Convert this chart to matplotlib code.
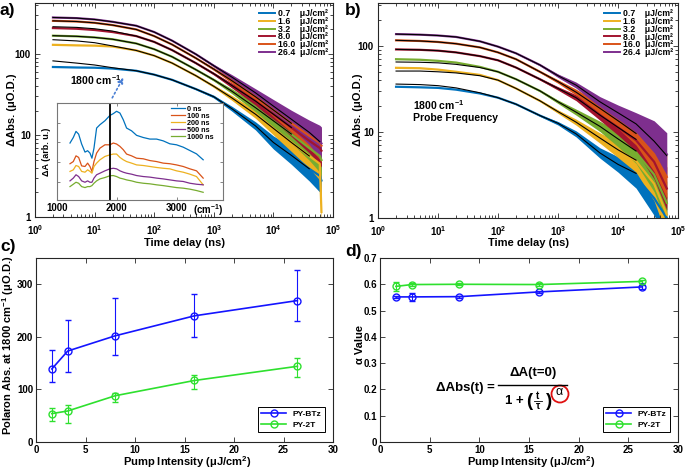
import numpy as np
import matplotlib
matplotlib.use('Agg')
import matplotlib.pyplot as plt
from matplotlib.ticker import FixedLocator, NullFormatter, LogLocator, FuncFormatter
from matplotlib.patches import Ellipse
from matplotlib.lines import Line2D

plt.rcParams.update({
    'font.family': ['Liberation Sans', 'DejaVu Sans'],
    'font.weight': 'bold',
    'axes.labelweight': 'bold',
    'mathtext.fontset': 'custom',
    'mathtext.rm': 'Liberation Sans:weight=normal',
    'mathtext.it': 'Liberation Sans:italic:weight=normal',
    'mathtext.bf': 'Liberation Sans:weight=bold',
    'mathtext.default': 'bf',
    'axes.linewidth': 0.8,
    'axes.edgecolor': '#262626',
})

# ---------------- data ----------------
fluence_labels = ['0.7    μJ/cm²', '1.6    μJ/cm²', '3.2    μJ/cm²',
                  '8.0    μJ/cm²', '16.0  μJ/cm²', '26.4  μJ/cm²']
series_colors = ['#0072BD', '#EDB120', '#77AC30', '#A2142F', '#D95319', '#7E2F8E']

# panel a : PY-BTz decay traces (uO.D.)
t_a = [2, 5, 10, 20, 50, 100, 200, 500, 1e3, 2e3, 5e3, 1e4, 2e4, 4e4, 6e4, 6.4e4]
a_07 = [69, 68, 67.6, 66, 62, 55.6, 48, 37, 29.8, 21.3, 13.1, 8.2, 5.7, 3.9, 3.2, 2.8]
a_16 = [129, 127, 126, 123, 110, 95, 77, 54, 40, 28.9, 18.2, 12.2, 8.2, 5.6, 4.5, 1.15]
a_32 = [167, 164, 159, 151, 134, 114, 92, 64, 48, 34.9, 21.9, 15.1, 10.4, 7.0, 5.6, 5.0]
a_80 = [207, 203, 196, 185, 165, 140, 111, 77, 57, 41, 26.4, 18.2, 12.5, 8.6, 7.0, 6.5]
a_160 = [254, 249, 240, 225, 199, 165, 130, 88.6, 65, 47, 29.8, 20.5, 14.1, 9.9, 8.1, 7.5]
a_264 = [279, 274, 264, 247, 221, 185, 145, 99, 71.5, 52, 33.3, 22.9, 15.8, 10.9, 8.4, 8.0]
noise_a = [0, 0, 0, 0, 0, 0, 0.003, 0.008, 0.015, 0.03, 0.05, 0.08, 0.11, 0.15, 0.2, 0.2]
# fitted curves, panel a
fit_a_07 = [82, 77, 73, 67.6, 62, 55.6, 48, 37, 29.8, 21.3, 13.1, 8.2, 5.7, 3.9]
fit_a_16 = [149, 144, 137, 125, 110, 95, 77, 54, 40, 28.9, 18.2, 12.2, 8.2, 5.6]
fit_a_32 = [167, 164, 159, 151, 134, 114, 92, 64, 48, 34.9, 21.9, 15.1, 10.4]
fit_a_80 = [215, 211, 203, 190, 165, 140, 111, 77, 57, 41, 26.4, 18.2, 12.5]
fit_a_160 = [254, 249, 240, 225, 199, 165, 130, 88.6, 65, 47, 29.8, 20.5, 14.1]
fit_a_264 = [279, 274, 264, 247, 221, 185, 145, 99, 71.5, 52, 33.3, 22.9, 15.8, 10.9, 8.4]

# panel b : PY-2T decay traces (uO.D.)
t_b = [2, 5, 10, 20, 50, 100, 200, 500, 1e3, 2e3, 5e3, 1e4, 2e4, 4e4, 6.5e4]
b_07 = [33.5, 33, 32.5, 31, 28, 25, 21, 15.5, 12.6, 9.5, 5.7, 4.2, 3.0, 1.7, 1.0]
b_16 = [55.6, 55, 53, 50, 46, 40, 32, 23, 17.2, 13, 8.5, 6.2, 4.6, 2.5, 1.1]
b_32 = [70, 69, 67, 64, 57, 50, 41, 30, 22.4, 17, 11.6, 8.3, 5.8, 3.2, 1.5]
b_80 = [91, 90, 88, 84, 76, 68, 56, 41, 32, 25, 15.7, 11.3, 8, 4.5, 2.2]
b_160 = [116, 114, 111, 106, 96, 84, 70, 50, 38.5, 29, 18.8, 13.5, 9.5, 5.5, 3.0]
b_264 = [137, 135, 132, 127, 113, 98, 82, 60, 45, 35, 22.4, 16.7, 12.4, 8.5, 5.5]
noise_b = [0, 0, 0, 0, 0, 0.003, 0.005, 0.01, 0.02, 0.035, 0.06, 0.09, 0.13, 0.2, 0.25]
fit_b_07 = [36, 35.5, 34.5, 32.5, 28.5, 25, 21, 15.5, 12.6, 9.5, 5.7, 4.2, 3.3]
fit_b_16 = [51, 51, 50, 48.5, 45, 40, 32, 23, 17.2, 13, 8.5, 6.2, 4.7]
fit_b_32 = [65, 64.5, 63.5, 61, 56, 50, 41, 30, 22.4, 17, 11.6, 8.3, 6.0]
fit_b_80 = [91, 90, 88, 84, 76, 68, 56, 41, 32, 25, 15.7, 11.3, 8.2]
fit_b_160 = [116, 114, 111, 106, 96, 84, 70, 50, 38.5, 29, 18.8, 13.5, 9.6]
fit_b_264 = [137, 135, 132, 127, 113, 98, 82, 60, 45, 35, 22.4, 16.7, 12.4, 7.8, 5.3]

# inset : transient spectra (arb. u.)
inset_wn = [1217, 1272, 1317, 1361, 1411, 1467, 1511, 1550, 1583, 1617, 1661, 1717,
            1800, 1883, 1939, 1994, 2050, 2106, 2161, 2244, 2328, 2439, 2550, 2661,
            2772, 2883, 2994, 3106, 3217, 3328, 3439]
spec_0ns = [2.97, 3.25, 3.56, 3.42, 2.92, 2.51, 2.58, 2.46, 2.20, 2.71, 3.73, 3.90,
            4.10, 4.37, 4.46, 4.58, 4.49, 4.15, 3.73, 3.59, 3.36, 3.25, 3.17, 3.17,
            3.08, 2.93, 2.88, 2.76, 2.59, 2.42, 2.12]
spec_100ns = [1.92, 2.03, 2.32, 2.24, 1.81, 1.78, 1.95, 1.78, 1.53, 2.03, 2.46, 2.71,
              2.88, 2.88, 2.97, 2.92, 2.80, 2.63, 2.41, 2.32, 2.20, 2.17, 2.08, 2.03,
              1.95, 1.92, 1.86, 1.78, 1.66, 1.56, 1.19]
spec_200ns = [1.53, 1.61, 1.83, 1.78, 1.53, 1.49, 1.61, 1.53, 1.44, 1.78, 1.95, 2.12,
              2.29, 2.37, 2.41, 2.41, 2.24, 2.12, 2.03, 1.95, 1.86, 1.83, 1.78, 1.73,
              1.69, 1.66, 1.56, 1.49, 1.39, 1.27, 0.85]
spec_500ns = [1.05, 1.19, 1.36, 1.27, 1.05, 0.98, 1.05, 0.98, 0.98, 1.19, 1.36, 1.44,
              1.56, 1.66, 1.69, 1.66, 1.56, 1.49, 1.44, 1.39, 1.32, 1.27, 1.24, 1.19,
              1.15, 1.10, 1.05, 1.02, 0.93, 0.88, 0.85]
spec_1000ns = [0.76, 0.88, 0.98, 0.93, 0.76, 0.71, 0.76, 0.76, 0.81, 0.93, 1.05, 1.15,
               1.22, 1.31, 1.32, 1.27, 1.19, 1.15, 1.10, 1.05, 0.98, 0.93, 0.90, 0.85,
               0.81, 0.76, 0.71, 0.68, 0.63, 0.56, 0.47]
spec_labels = ['0 ns', '100 ns', '200 ns', '500 ns', '1000 ns']
spec_colors = ['#0072BD', '#D95319', '#EDB120', '#7E2F8E', '#77AC30']
probe_wn = 1880

# panels c, d
pump = [1.6, 3.2, 8.0, 16.0, 26.4]
btz_abs = [139, 173, 202, 240, 269]
btz_abs_lo = [24, 40, 36, 41, 39]
btz_abs_hi = [36, 59, 71, 42, 59]
t2_abs = [54, 59, 88, 117, 144]
t2_abs_lo = [14, 23, 12, 16, 20]
t2_abs_hi = [11, 11, 5, 11, 16]
btz_alpha = [0.552, 0.552, 0.553, 0.571, 0.590]
btz_alpha_err = [0.005, 0.015, 0.004, 0.005, 0.008]
t2_alpha = [0.592, 0.599, 0.600, 0.599, 0.611]
t2_alpha_err = [0.016, 0.005, 0.004, 0.004, 0.005]
c_blue = '#1414FF'
c_green = '#2EE02E'

# ---------------- figure ----------------
W, H = 685, 469
fig = plt.figure(figsize=(6.85, 4.69), dpi=100)


def axes_px(l, t, r, b):
    return fig.add_axes([l / W, 1 - b / H, (r - l) / W, (b - t) / H])


def ftext(x, y, s, **kw):
    return fig.text(x / W, 1 - y / H, s, **kw)


def fline(x0, x1, y, lw):
    fig.add_artist(Line2D([x0 / W, x1 / W], [1 - y / H, 1 - y / H], color='black', lw=lw))


def style_log(ax, ytop):
    ax.set_xscale('log')
    ax.set_yscale('log')
    ax.set_xlim(1, 1e5)
    ax.set_ylim(1, ytop)
    ax.xaxis.set_major_locator(LogLocator(base=10, numticks=10))
    ax.xaxis.set_minor_locator(LogLocator(base=10, subs=np.arange(2, 10), numticks=30))
    ax.xaxis.set_minor_formatter(NullFormatter())
    ax.yaxis.set_major_locator(FixedLocator([1, 10, 100]))
    ax.yaxis.set_major_formatter(FuncFormatter(lambda v, p: '%g' % v))
    ax.yaxis.set_minor_locator(LogLocator(base=10, subs=np.arange(2, 10), numticks=30))
    ax.yaxis.set_minor_formatter(NullFormatter())
    ax.tick_params(which='both', direction='in', top=True, right=True,
                   labelsize=7, width=0.6, color='#262626', pad=3)
    ax.tick_params(axis='x', which='both', pad=4.5)
    ax.tick_params(which='major', length=3.5)
    ax.tick_params(which='minor', length=2)


def draw_decays(ax, t, series, noise, fits):
    handles = []
    tt = np.array(t)
    nn = np.array(noise)
    for vals, col, lab in zip(series, series_colors, fluence_labels):
        v = np.array(vals)
        ax.fill_between(tt, v * 10 ** (-nn), v * 10 ** nn, color=col, lw=0)
        ln, = ax.plot(tt, v, color=col, lw=1.6, label=lab)
        handles.append(ln)
    for fv in fits:
        ax.plot(tt[:len(fv)], fv, color='black', lw=0.8)
    leg = ax.legend(handles=handles, loc='upper right', bbox_to_anchor=(0.985, 0.97),
                    frameon=False, fontsize=6.3, labelspacing=-0.15, handlelength=1.85,
                    handletextpad=0.4, borderaxespad=0.0, borderpad=0.0)
    for l in leg.get_lines():
        l.set_linewidth(1.4)
    return leg


# ---- panel a ----
ax_a = axes_px(35, 3, 333, 217)
draw_decays(ax_a, t_a, [a_07, a_16, a_32, a_80, a_160, a_264], noise_a,
            [fit_a_07, fit_a_16, fit_a_32, fit_a_80, fit_a_160, fit_a_264])
style_log(ax_a, 420)
ax_a.text(0.118, 0.64, '1800 cm$^{-1}$', transform=ax_a.transAxes, fontsize=7.5,
          ha='left', va='center')
ax_a.annotate('', xy=(32, 55), xytext=(18.8, 27),
              arrowprops=dict(arrowstyle='-|>', color='#4a7fd4', lw=1.2, ls=':',
                              mutation_scale=8))

# inset
ax_in = axes_px(57, 103, 223, 200)
for vals, col, lab in zip([spec_0ns, spec_100ns, spec_200ns, spec_500ns, spec_1000ns],
                          spec_colors, spec_labels):
    ax_in.plot(inset_wn, vals, color=col, lw=0.9, label=lab)
ax_in.axvline(probe_wn, color='black', lw=1.3)
ax_in.set_xlim(1000, 3770)
ax_in.set_ylim(0.08, 5.0)
ax_in.set_xticks([1000, 2000, 3000])
ax_in.set_xticklabels(['1000', '2000', '3000'])
ax_in.set_yticks([1, 2, 3, 4])
ax_in.set_yticklabels([])
ax_in.tick_params(direction='in', top=True, right=True, length=2.5, width=0.5,
                  labelsize=7, color='#555555', pad=2)
for s in ax_in.spines.values():
    s.set_color('#777777')
    s.set_linewidth(0.8)
ax_in.set_ylabel('ΔA (arb. u.)', fontsize=6.5, labelpad=2)
ax_in.text(1.0, -0.1, '(cm$^{-1}$)', transform=ax_in.transAxes, fontsize=7,
           ha='right', va='center')
ax_in.legend(loc='upper right', bbox_to_anchor=(0.95, 0.98), frameon=False, fontsize=5.2,
             labelspacing=0.0, handlelength=2.0, handletextpad=0.3, borderpad=0.1,
             borderaxespad=0)

# ---- panel b ----
ax_b = axes_px(378, 3, 678, 218)
draw_decays(ax_b, t_b, [b_07, b_16, b_32, b_80, b_160, b_264], noise_b,
            [fit_b_07, fit_b_16, fit_b_32, fit_b_80, fit_b_160, fit_b_264])
style_log(ax_b, 315)
ax_b.text(0.117, 0.5, '1800 cm$^{-1}$\nProbe Frequency', transform=ax_b.transAxes,
          fontsize=7.5, ha='left', va='center', linespacing=1.2)

# ---- panels c, d ----
eb_kw = dict(marker='o', ms=5, mfc='none', mew=1.0, lw=1.2, elinewidth=0.8,
             capsize=2.5, capthick=0.8)
ax_c = axes_px(36, 258, 333, 442)
ax_c.errorbar(pump, btz_abs, yerr=[btz_abs_lo, btz_abs_hi], color=c_blue, **eb_kw)
ax_c.errorbar(pump, t2_abs, yerr=[t2_abs_lo, t2_abs_hi], color=c_green, **eb_kw)
ax_c.set_xlim(0, 30)
ax_c.set_ylim(0, 350)
ax_c.set_xticks(range(0, 31, 5))
ax_c.set_yticks([0, 100, 200, 300])

ax_d = axes_px(380, 258, 678, 442)
ax_d.errorbar(pump, btz_alpha, yerr=btz_alpha_err, color=c_blue, **eb_kw)
ax_d.errorbar(pump, t2_alpha, yerr=t2_alpha_err, color=c_green, **eb_kw)
ax_d.set_xlim(0, 30)
ax_d.set_ylim(0, 0.7)
ax_d.set_xticks(range(0, 31, 5))
ax_d.set_yticks(np.arange(0, 0.71, 0.1))
ax_d.yaxis.set_major_formatter(FuncFormatter(lambda v, p: '%g' % round(v, 2)))

for ax in (ax_c, ax_d):
    ax.tick_params(direction='in', top=True, right=True, labelsize=7, width=0.6,
                   length=3.5, color='#262626', pad=2)
    hs = [Line2D([], [], color=c_blue, marker='o', ms=5, mfc='none', mew=1.0, lw=1.2),
          Line2D([], [], color=c_green, marker='o', ms=5, mfc='none', mew=1.0, lw=1.2)]
    leg = ax.legend(hs, ['PY-BTz', 'PY-2T'], loc='lower right',
                    bbox_to_anchor=(0.973, 0.054), fontsize=6, fancybox=False,
                    edgecolor='black', framealpha=1, borderaxespad=0,
                    handlelength=3.0, labelspacing=0.3, borderpad=0.4)
    leg.get_frame().set_linewidth(0.7)

# equation in panel d
eq_kw = dict(fontweight='bold', ha='center', va='center')
ftext(436, 388, 'ΔAbs(t) =', fontsize=9.5, fontweight='bold', ha='left', va='center')
ftext(533.5, 373, 'ΔA(t=0)', fontsize=9.5, **eq_kw)
fline(498, 567, 385, 1.0)
ftext(505, 401, '1 +', fontsize=9.5, fontweight='bold', ha='left', va='center')
ftext(529.5, 401, '(', fontsize=13.5, **eq_kw)
ftext(538, 396, 't', fontsize=7, **eq_kw)
fline(534, 542, 401, 0.6)
ftext(538, 405.5, 'τ', fontsize=7, **eq_kw)
ftext(549.5, 401, ')', fontsize=13.5, **eq_kw)
ftext(559, 392, 'α', fontsize=9, fontweight='normal', ha='center', va='center')
fig.add_artist(Ellipse((560 / W, 1 - 394 / H), 17 / W, 17 / H, fill=False,
                       edgecolor='#e01010', lw=1.3))

# axis labels
lab_kw = dict(fontsize=8, fontweight='bold', ha='center', va='center')
ftext(184, 243, 'Time delay (ns)', **lab_kw)
ftext(528, 243, 'Time delay (ns)', **lab_kw)
ftext(187, 462, 'Pump Intensity (μJ/cm$^2$)', **lab_kw)
ftext(531, 462, 'Pump Intensity (μJ/cm$^2$)', **lab_kw)
ftext(12, 110, 'ΔAbs. (μO.D.)', rotation=90, **lab_kw)
ftext(358, 110, 'ΔAbs. (μO.D.)', rotation=90, **lab_kw)
ftext(8, 345, 'Polaron Abs. at 1800 cm$^{-1}$ (μO.D.)', rotation=90, **lab_kw)
ftext(360, 344, 'α Value', rotation=90, **lab_kw)

# panel letters
pl_kw = dict(fontsize=12.5, fontweight='bold', ha='left', va='center')
ftext(0, 10, 'a)', **pl_kw)
ftext(345, 10, 'b)', **pl_kw)
ftext(0, 247, 'c)', **pl_kw)
ftext(345, 251, 'd)', **pl_kw)

fig.savefig('out.png', dpi=100)
